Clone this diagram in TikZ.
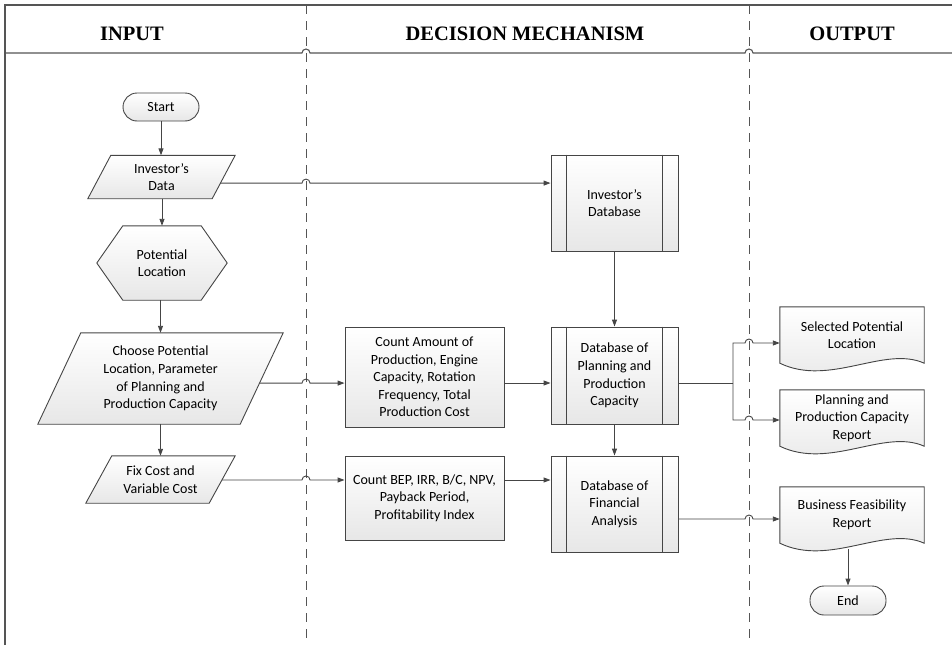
\documentclass[tikz,border=0pt]{standalone}
\usepackage{fontspec}
\setmainfont{Carlito}
\newfontfamily\headfont{Liberation Serif}
\usetikzlibrary{arrows.meta,calc,backgrounds}

\definecolor{lc}{HTML}{454545}
\definecolor{framec}{HTML}{555555}
\definecolor{fillbot}{HTML}{E7E7E7}

% outline helpers: each draws a shape behind the bounding box of a named node
\newcommand\paraoutline[2]{%
  \begin{scope}[on background layer]
    \draw[shp] ($(#1.north west)+(#2,0)$) -- (#1.north east)
      -- ($(#1.south east)+(-#2,0)$) -- (#1.south west) -- cycle;
  \end{scope}}
\newcommand\hexoutline[2]{%
  \begin{scope}[on background layer]
    \draw[shp] ($(#1.north west)+(#2,0)$) -- ($(#1.north east)+(-#2,0)$)
      -- (#1.east) -- ($(#1.south east)+(-#2,0)$)
      -- ($(#1.south west)+(#2,0)$) -- (#1.west) -- cycle;
  \end{scope}}
\newcommand\docoutline[1]{%
  \begin{scope}[on background layer]
    \draw[shp] (#1.south west) -- (#1.north west) -- (#1.north east)
      -- (#1.south east)
      .. controls ($(#1.south east)+(-40,-18)$) and ($(#1.south west)+(50,24)$)
      .. (#1.south west) -- cycle;
  \end{scope}}
\newcommand\dbbars[1]{%
  \draw[lc, line width=0.9pt] ($(#1.north west)+(16,0)$) -- ($(#1.south west)+(16,0)$);
  \draw[lc, line width=0.9pt] ($(#1.north east)+(-16,0)$) -- ($(#1.south east)+(-16,0)$);}

\begin{document}
\begin{tikzpicture}[x=1pt,y=-1pt,
  every node/.style={inner sep=0pt, align=center, text=black,
    font=\fontsize{14}{17.6}\selectfont},
  shp/.style={draw=lc, line width=0.9pt, top color=white, bottom color=fillbot},
  bb/.style={rectangle},
  pbox/.style={rectangle, shp},
  tbox/.style={rectangle, rounded corners=14pt, shp},
  hnode/.style={font=\headfont\bfseries\fontsize{20.5}{24}\selectfont, anchor=base},
  frame/.style={draw=framec, line width=1.1pt},
  lane/.style={draw=framec, line width=1pt, dash pattern=on 9pt off 7pt},
  conn/.style={draw=lc, line width=0.9pt},
  arr/.style={conn, -{Triangle[length=7pt,width=5pt]}},
]
\useasboundingbox (0,0) rectangle (952,645);

% swimlane frame
\coordinate (lane1) at (306,5);
\coordinate (lane2) at (749,5);
\coordinate (hl) at (5,53);
\coordinate (hr) at (952,53);
\draw[frame] (5,645) -- (5,5) -- (952,5);
\draw[lane] (lane1) -- (306,645);
\draw[lane] (lane2) -- (749,645);
\draw[frame] (hl) -- ([xshift=-4pt]hl -| lane1) arc[start angle=180,end angle=0,radius=4pt]
  -- ([xshift=-4pt]hl -| lane2) arc[start angle=180,end angle=0,radius=4pt] -- (hr);

\node[hnode] (hin) at (132,40) {INPUT};
\node[hnode] (hdm) at (525,40) {DECISION MECHANISM};
\node[hnode] (hout) at (852,40) {OUTPUT};

% input lane
\node[tbox, minimum width=76pt, minimum height=28pt] (start) at (161,107) {Start};
\node[bb, minimum width=147pt, minimum height=43pt] (data) at (161.5,177) {Investor’s\\Data};
\paraoutline{data}{23}
\node[bb, minimum width=130pt, minimum height=74pt] (loc) at (162,263) {Potential\\Location};
\hexoutline{loc}{26}
\node[bb, minimum width=245pt, minimum height=91pt] (choose) at (160.5,378.5)
  {Choose Potential\\Location, Parameter\\of Planning and\\Production Capacity};
\paraoutline{choose}{43}
\node[bb, minimum width=149pt, minimum height=47pt] (fix) at (160.5,479.5) {Fix Cost and\\Variable Cost};
\paraoutline{fix}{26}

% decision lane
\node[pbox, minimum width=159pt, minimum height=100pt] (cnt) at (424.5,377)
  {Count Amount of\\Production, Engine\\Capacity, Rotation\\Frequency, Total\\Production Cost};
\node[pbox, minimum width=159pt, minimum height=84pt] (bep) at (424.5,498)
  {Count BEP, IRR, B/C, NPV,\\Payback Period,\\Profitability Index};
\node[pbox, minimum width=127pt, minimum height=96pt] (dbi) at (614.5,203) {Investor’s\\Database};
\dbbars{dbi}
\node[pbox, minimum width=127pt, minimum height=97pt] (dbp) at (614.5,375.5)
  {Database of\\Planning and\\Production\\Capacity};
\dbbars{dbp}
\node[pbox, minimum width=127pt, minimum height=96pt] (dbf) at (614.5,504)
  {Database of\\Financial\\Analysis};
\dbbars{dbf}

% output lane
\node[bb, minimum width=144pt, minimum height=56pt] (sel) at (852,335) {Selected Potential\\Location};
\docoutline{sel}
\node[bb, minimum width=144pt, minimum height=56pt] (rep) at (852,418)
  {Planning and\\Production Capacity\\Report};
\docoutline{rep}
\node[bb, minimum width=144pt, minimum height=56pt] (bus) at (852,515) {Business Feasibility\\Report};
\docoutline{bus}
\node[tbox, minimum width=76pt, minimum height=29pt] (endn) at (848,600.5) {End};

% connection points on slanted and wavy edges
\coordinate (dataR) at ($(data.north east)!0.64!($(data.south east)+(-23,0)$)$);
\coordinate (chooseR) at ($(choose.north east)!0.55!($(choose.south east)+(-43,0)$)$);
\coordinate (fixR) at ($(fix.north east)!0.51!($(fix.south east)+(-26,0)$)$);
\coordinate (cntR) at ([yshift=-6pt]cnt.east);
\coordinate (bepR) at ([yshift=18pt]bep.east);
\coordinate (dbpR) at ([yshift=-7.5pt]dbp.east);
\coordinate (dbfR) at ([yshift=-15pt]dbf.east);
\coordinate (selL) at ([yshift=-8pt]sel.west);
\coordinate (repL) at ([yshift=-2pt]rep.west);
\coordinate (fork) at (733,383);
\coordinate (busW) at ($(bus.south)+(0,6)$);

% vertical flow
\draw[arr] (start.south) -- (start.south |- data.north);
\draw[arr] (loc.north |- data.south) -- (loc.north);
\draw[arr] (choose.north |- loc.south) -- (choose.north);
\draw[arr] (fix.north |- choose.south) -- (fix.north);
\draw[arr] (dbi.south) -- (dbp.north);
\draw[arr] (dbp.south) -- (dbf.north);
\draw[arr] (endn.north |- busW) -- (endn.north);

% horizontal flow, hopping over the lane dividers
\draw[arr] (dataR) -- ([xshift=-4pt]dataR -| lane1) arc[start angle=180,end angle=0,radius=4pt]
  -- (dataR -| dbi.west);
\draw[arr] (chooseR) -- ([xshift=-4pt]chooseR -| lane1) arc[start angle=180,end angle=0,radius=4pt]
  -- (chooseR -| cnt.west);
\draw[arr] (fixR) -- ([xshift=-4pt]fixR -| lane1) arc[start angle=180,end angle=0,radius=4pt]
  -- (fixR -| bep.west);
\draw[arr] (cntR) -- (cntR -| dbp.west);
\draw[arr] (bepR) -- (bepR -| dbf.west);
\draw[conn] (dbpR) -- (dbpR -| fork);
\draw[arr] (dbpR -| fork) -- (fork |- selL)
  -- ([xshift=-4pt]selL -| lane2) arc[start angle=180,end angle=0,radius=4pt] -- (selL);
\draw[arr] (dbpR -| fork) -- (fork |- repL)
  -- ([xshift=-4pt]repL -| lane2) arc[start angle=180,end angle=0,radius=4pt] -- (repL);
\draw[arr] (dbfR) -- ([xshift=-4pt]dbfR -| lane2) arc[start angle=180,end angle=0,radius=4pt]
  -- (dbfR -| bus.west);
\end{tikzpicture}
\end{document}
